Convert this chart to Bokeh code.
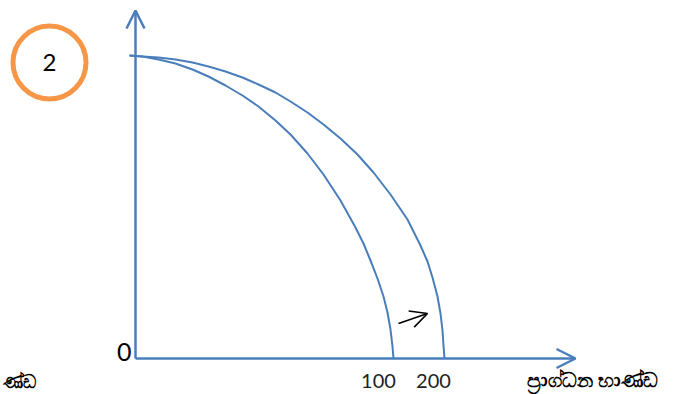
from bokeh.plotting import figure
from bokeh.models import Range1d, Arrow, OpenHead, ColumnDataSource
from bokeh.core.properties import value
from bokeh.embed import file_html
from bokeh.resources import INLINE

# ---- data (diagram units, origin at the axes' corner) ----
inner_x = [-6, 7, 23, 40, 57, 73, 90, 107, 123, 140, 155, 172, 188, 205, 220, 228, 235, 242, 248, 252, 255, 257, 258]
inner_y = [303, 302, 299, 295, 289, 282, 273, 263, 252, 238, 224, 205, 184, 158, 131, 115, 98, 80, 62, 46, 29, 12, 0]
outer_x = [-6, 7, 23, 40, 57, 73, 90, 107, 123, 140, 155, 172, 188, 205, 222, 238, 255, 272, 285, 292, 297, 302, 305, 307, 308, 309]
outer_y = [303, 302, 301, 299, 296, 292, 287, 281, 274, 266, 257, 246, 234, 220, 204, 186, 164, 139, 113, 97, 81, 62, 45, 28, 13, 0]
tick_labels = ["100", "200"]
tick_pos = [243, 298]
x_axis_end = 440
y_axis_end = 348
shift_start = (263, 35)
shift_end = (292, 45)
x_title = "ප්‍රාග්ධන භාණ්ඩ"
y_title_tail = "ණ්ඩ"
badge = "2"

BLUE = "#4A7EBB"
ORANGE = "#F79646"

p = figure(width=683, height=394, x_range=Range1d(-135, 548), y_range=Range1d(-36, 358),
           output_backend="svg", toolbar_location=None, min_border=0)
p.axis.visible = False
p.grid.visible = False
p.outline_line_color = None
p.background_fill_color = "white"

# axes with arrowheads
p.add_layout(Arrow(end=OpenHead(size=18, line_color=BLUE, line_width=2.5),
                   x_start=0, y_start=0, x_end=0, y_end=y_axis_end,
                   line_color=BLUE, line_width=2.5))
p.add_layout(Arrow(end=OpenHead(size=19, line_color=BLUE, line_width=2.5),
                   x_start=0, y_start=0, x_end=x_axis_end, y_end=0,
                   line_color=BLUE, line_width=2.5))

# curves
p.line(inner_x, inner_y, line_color=BLUE, line_width=2, line_join="round")
p.line(outer_x, outer_y, line_color=BLUE, line_width=2, line_join="round")

# shift arrow
p.add_layout(Arrow(end=OpenHead(size=17, line_color="black", line_width=1.6),
                   x_start=shift_start[0], y_start=shift_start[1],
                   x_end=shift_end[0], y_end=shift_end[1],
                   line_color="black", line_width=1.6))

# badge
p.circle(x=[-86], y=[296], radius=36.5, fill_color=None, line_color=ORANGE, line_width=5)
p.text(x=[-86], y=[296], text=[badge], text_font=value("Lato"), text_font_size="24px",
       text_align="center", text_baseline="middle", text_color="black")

# origin and tick labels
p.text(x=[-4], y=[7], text=["0"], text_font=value("Lato"), text_font_size="25px",
       text_align="right", text_baseline="middle", text_color="black")
src = ColumnDataSource(dict(x=tick_pos, y=[-22] * len(tick_pos), t=tick_labels))
p.text(x="x", y="y", text="t", source=src, text_font=value("Lato"), text_font_size="20px",
       text_align="center", text_baseline="middle", text_color="#222222")

# axis titles
p.text(x=[457], y=[-21], text=[x_title], text_font=value("Noto Sans"), text_font_size="20px",
       text_font_style="bold", text_align="center", text_baseline="middle", text_color="black")
p.text(x=[-133], y=[-22], text=[y_title_tail], text_font=value("Noto Sans"), text_font_size="18px",
       text_font_style="bold", text_align="left", text_baseline="middle", text_color="black")

open("out.html", "w").write(file_html(p, INLINE))
